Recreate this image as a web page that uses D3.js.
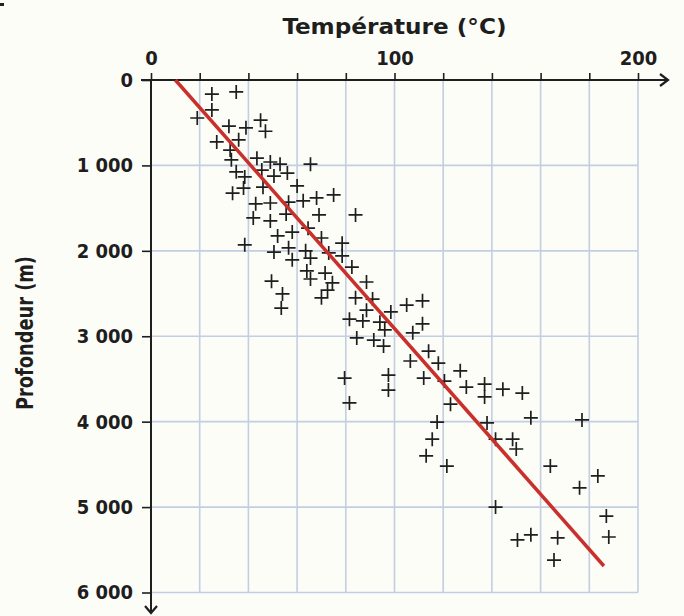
<!DOCTYPE html>
<html>
<head>
<meta charset="utf-8">
<script src="https://cdn.jsdelivr.net/npm/d3@7"></script>
<style>
  body { margin: 0; background: #fdfdf8; }
  svg { display: block; }
</style>
</head>
<body>
<svg id="chart" width="684" height="616"></svg>
<script>
// temperature (°C) and depth (m) of each measure
const tempC = [25, 35, 25, 19, 45, 32, 39, 47, 27, 36, 32.5, 33, 43.5, 49, 53, 65.5,
  35, 38.5, 45.5, 50.5, 56, 38, 33.5, 46, 60, 43, 49, 56.5, 62.5, 68, 75,
  42, 49, 55.5, 69, 84, 52, 58, 64.5, 70, 38.5, 50.5, 56.5, 58, 63.5, 65.5, 73,
  78.5, 78.5, 64, 65.5, 71.5, 74.5, 72.5, 70, 49.5, 54, 53.5, 82.5, 88.5, 84, 91,
  88.5, 98.5, 81.5, 87, 94, 96, 105, 111.5, 107.5, 111.5, 84.5, 91.5, 95.5, 114,
  106.5, 118, 127, 97.5, 112, 120.5, 129.5, 137, 137, 144.5, 152.5, 79.5, 97.5,
  81.5, 123, 117.5, 138, 115.5, 141.5, 148.5, 150, 113, 121.5, 156, 177, 164,
  183.5, 176, 141.5, 187, 188, 150.5, 156, 167, 165.5];
const depthM = [165, 140, 350, 445, 470, 540, 560, 600, 725, 700, 820, 935, 915, 960, 985, 985,
  1075, 1135, 1055, 1125, 1090, 1265, 1325, 1255, 1240, 1450, 1440, 1430, 1415, 1380, 1345,
  1615, 1650, 1570, 1580, 1580, 1825, 1780, 1735, 1850, 1930, 2015, 1965, 2105, 2000, 2085, 2025,
  1910, 2060, 2235, 2330, 2260, 2375, 2460, 2550, 2355, 2505, 2670, 2190, 2365, 2550, 2565,
  2695, 2715, 2800, 2820, 2835, 2925, 2635, 2585, 2960, 2855, 3020, 3045, 3115, 3175,
  3290, 3315, 3405, 3455, 3490, 3525, 3595, 3560, 3710, 3620, 3665, 3490, 3630,
  3780, 3795, 4005, 4015, 4205, 4205, 4205, 4320, 4400, 4520, 3955, 3980, 4520,
  4635, 4775, 5000, 5105, 5350, 5385, 5325, 5360, 5620];

// fitted gradient (red line)
const trendTemp = [10, 186];
const trendDepth = [0, 5690];

const xGrid = [0, 20, 40, 60, 80, 100, 120, 140, 160, 180, 200];
const xLabels = [0, 100, 200];
const yTicks = [0, 1000, 2000, 3000, 4000, 5000, 6000];
const yLabels = ["0", "1 000", "2 000", "3 000", "4 000", "5 000", "6 000"];

const xTitle = "Température (°C)";
const yTitle = "Profondeur (m)";

const svg = d3.select("#chart");
svg.append("rect").attr("width", 684).attr("height", 616).attr("fill", "#fdfdf8");
svg.append("rect").attr("x", 0).attr("y", 3).attr("width", 4).attr("height", 3).attr("fill", "#222");

const x = d3.scaleLinear().domain([0, 200]).range([151, 638]);
const y = d3.scaleLinear().domain([0, 6000]).range([80, 592.5]);

const gridColor = "#c4cee2";
const ink = "#1e1e1e";
const tickFont = "DejaVu Sans Condensed";

// grid
svg.append("g").selectAll("line").data(xGrid.slice(1)).join("line")
  .attr("x1", d => x(d)).attr("x2", d => x(d))
  .attr("y1", y(0)).attr("y2", y(6000))
  .attr("stroke", gridColor).attr("stroke-width", 1.6);
svg.append("g").selectAll("line").data(yTicks.slice(1)).join("line")
  .attr("x1", x(0)).attr("x2", x(200))
  .attr("y1", d => y(d)).attr("y2", d => y(d))
  .attr("stroke", gridColor).attr("stroke-width", 1.6);

// top axis
const xAxis = svg.append("g").attr("transform", `translate(0,${y(0)})`)
  .call(d3.axisTop(x).tickValues(xGrid).tickSize(7).tickPadding(8)
    .tickFormat(d => xLabels.includes(d) ? d : ""));
xAxis.select(".domain").remove();
xAxis.selectAll(".tick line").attr("stroke", ink).attr("stroke-width", 1.6);
xAxis.selectAll("text").attr("fill", ink)
  .style("font-family", tickFont).style("font-size", "20px").style("font-weight", "bold");

// left axis
const yAxis = svg.append("g").attr("transform", `translate(${x(0)},0)`)
  .call(d3.axisLeft(y).tickValues(yTicks).tickSize(9).tickPadding(9)
    .tickFormat((d, i) => yLabels[i]));
yAxis.select(".domain").remove();
yAxis.selectAll(".tick line").attr("stroke", ink).attr("stroke-width", 1.6);
yAxis.selectAll("text").attr("fill", ink)
  .style("font-family", tickFont).style("font-size", "20px").style("font-weight", "bold");

// axis lines with open arrows
svg.append("line").attr("x1", x(0) - 10).attr("x2", 668).attr("y1", y(0)).attr("y2", y(0))
  .attr("stroke", ink).attr("stroke-width", 2);
svg.append("path").attr("d", `M660,${y(0) - 6}L668,${y(0)}L660,${y(0) + 6}`)
  .attr("fill", "none").attr("stroke", ink).attr("stroke-width", 2.2);
svg.append("line").attr("x1", x(0)).attr("x2", x(0)).attr("y1", y(0)).attr("y2", 613)
  .attr("stroke", ink).attr("stroke-width", 2);
svg.append("path").attr("d", `M${x(0) - 6},606L${x(0)},613L${x(0) + 6},606`)
  .attr("fill", "none").attr("stroke", ink).attr("stroke-width", 2.2);

// titles
svg.append("text").attr("x", x(100)).attr("y", 34).attr("text-anchor", "middle")
  .attr("textLength", 224).attr("lengthAdjust", "spacingAndGlyphs")
  .style("font-family", "DejaVu Sans Condensed").style("font-weight", "bold").style("font-size", "22px")
  .attr("fill", ink).text(xTitle);
svg.append("text").attr("transform", "translate(33,333) rotate(-90)").attr("text-anchor", "middle")
  .attr("textLength", 154).attr("lengthAdjust", "spacingAndGlyphs")
  .style("font-family", "DejaVu Sans Condensed").style("font-weight", "bold").style("font-size", "23px")
  .attr("fill", ink).text(yTitle);

// measures
const pts = tempC.map((t, i) => ({ t: t, d: depthM[i] }));
const arm = 7;
svg.append("g").selectAll("path").data(pts).join("path")
  .attr("d", p => `M${x(p.t) - arm},${y(p.d)}H${x(p.t) + arm}M${x(p.t)},${y(p.d) - arm}V${y(p.d) + arm}`)
  .attr("stroke", ink).attr("stroke-width", 1.7).attr("fill", "none");

// trend line
const trend = trendTemp.map((t, i) => ({ t: t, d: trendDepth[i] }));
svg.append("path").datum(trend)
  .attr("d", d3.line().x(p => x(p.t)).y(p => y(p.d)))
  .attr("stroke", "#c9302c").attr("stroke-width", 3.5).attr("fill", "none");
</script>
</body>
</html>
